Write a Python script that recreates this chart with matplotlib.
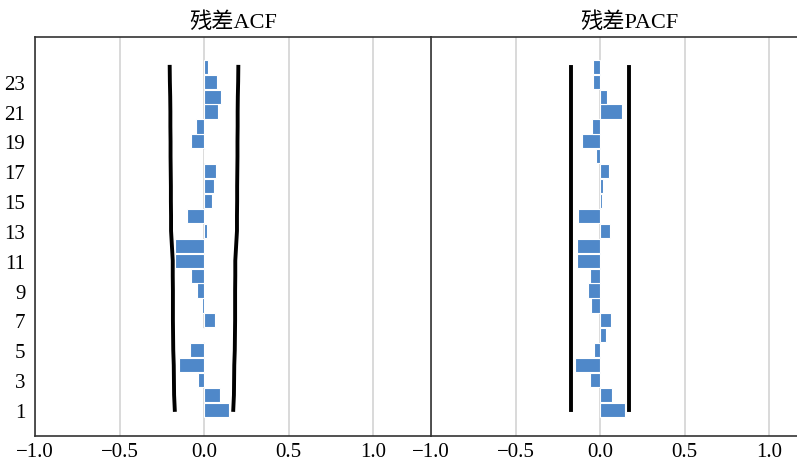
import matplotlib.pyplot as plt
import numpy as np

plt.rcParams['font.family'] = ['Liberation Serif', 'Noto Sans CJK SC']
plt.rcParams['font.size'] = 14
plt.rcParams['axes.unicode_minus'] = True

lags = np.arange(1, 25)

acf = [0.150, 0.093, -0.034, -0.148, -0.081, -0.005, 0.065, -0.010,
       -0.039, -0.079, -0.174, -0.174, 0.016, -0.100, 0.047, 0.057,
       0.069, 0.008, -0.079, -0.045, 0.083, 0.099, 0.077, 0.026]
acf_conf = [0.173, 0.177, 0.178, 0.179, 0.182, 0.183, 0.184, 0.184,
            0.184, 0.185, 0.185, 0.190, 0.195, 0.195, 0.196, 0.196,
            0.197, 0.198, 0.198, 0.199, 0.199, 0.200, 0.202, 0.203]

pacf = [0.150, 0.069, -0.059, -0.148, -0.036, 0.037, 0.065, -0.055,
        -0.069, -0.059, -0.138, -0.138, 0.061, -0.128, 0.010, 0.016,
        0.051, -0.026, -0.106, -0.045, 0.128, 0.039, -0.043, -0.043]
pacf_conf = 0.173

xticks = [-1.0, -0.5, 0.0, 0.5, 1.0]
yticks = list(range(1, 24, 2))

bar_color = '#4f88c9'
spine_color = '#333333'

fig = plt.figure(figsize=(7.97, 4.64), dpi=100)
# px positions
ax1 = fig.add_axes([35 / 797, 1 - 437 / 464, 396 / 797, 399 / 464])
ax2 = fig.add_axes([431 / 797, 1 - 437 / 464, 396 / 797, 399 / 464])


def panel(ax, vals, lo, hi, title, xlim):
    ax.barh(lags, vals, height=0.95, color=bar_color, edgecolor='white',
            linewidth=0.8, zorder=3)
    ax.plot(lo, lags, color='black', lw=2.8, zorder=4)
    ax.plot(hi, lags, color='black', lw=2.8, zorder=4)
    ax.set_xlim(*xlim)
    ax.set_ylim(-0.75, 26)
    ax.set_xticks(xticks)
    ax.grid(axis='x', color='#d3d3d3', lw=1.2, zorder=0)
    ax.grid(axis='y', visible=False)
    ax.tick_params(length=0, labelsize=15)
    ax.tick_params(axis='x', pad=4)
    ax.tick_params(axis='y', pad=7)
    for s in ax.spines.values():
        s.set_color(spine_color)
        s.set_linewidth(1.2)
    ax.set_title(title, fontsize=16, pad=7)


conf = np.array(acf_conf)
panel(ax1, acf, -conf, conf, '残差ACF', (-1.0, 1.343))
ax1.set_yticks(yticks)
ax1.spines['right'].set_visible(False)

pc = np.full(len(lags), pacf_conf)
panel(ax2, pacf, -pc, pc, '残差PACF', (-1.0, 1.343))
ax2.set_yticks([])
ax2.spines['right'].set_visible(False)

fig.savefig('out.png', dpi=100)
